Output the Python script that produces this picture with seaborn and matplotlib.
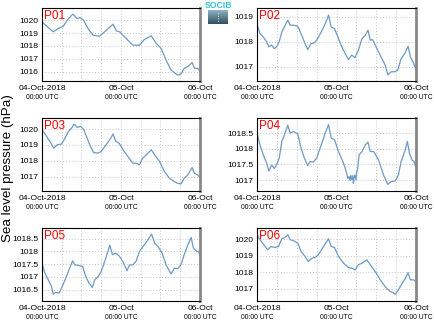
import numpy as np
import pandas as pd
import matplotlib
matplotlib.use("Agg")
import matplotlib.pyplot as plt
from matplotlib.ticker import MultipleLocator, FixedLocator
import seaborn as sns

# ---------------- data (hours since 04-Oct-2018 00:00 UTC, hPa) ----------------
stations = ["P01", "P02", "P03", "P04", "P05", "P06"]

p01_h = [0, 1.4, 3.4, 4.9, 6.5, 7.5, 9.0, 9.5, 10.6, 11.6, 12.6, 14.0, 15.5, 17.5, 19.6, 21.6, 22.6, 23.6,
         25.6, 27.6, 29.6, 31.1, 33.2, 34.7, 36.2, 37.7, 39.2, 41.2, 42.2, 43.2, 44.3, 45.6, 46.3, 47.3, 48.0]
p01_v = [1019.87, 1019.54, 1019.10, 1019.35, 1019.54, 1019.95, 1020.39, 1020.46, 1020.13, 1020.21, 1020.00,
         1019.35, 1018.84, 1018.76, 1019.23, 1019.69, 1019.17, 1019.10, 1018.58, 1018.06, 1018.06, 1018.50,
         1018.79, 1018.19, 1017.81, 1016.90, 1016.13, 1015.74, 1015.82, 1016.26, 1016.39, 1016.72, 1016.26,
         1016.26, 1016.00]

p02_h = [0, 0.9, 1.9, 2.9, 3.6, 4.4, 5.2, 5.9, 6.7, 7.5, 8.5, 9.3, 10.0, 11.0, 12.3, 13.3, 14.3, 15.3, 16.3,
         17.3, 18.3, 19.4, 20.6, 21.6, 22.4, 23.4, 24.4, 25.6, 26.6, 27.6, 28.6, 29.6, 30.6, 31.7, 32.7, 33.5,
         34.2, 34.9, 36.2, 37.7, 38.7, 39.5, 40.5, 41.5, 42.5, 43.5, 44.6, 45.6, 46.3, 47.3, 48.0]
p02_v = [1018.71, 1018.33, 1018.20, 1018.00, 1017.80, 1017.87, 1017.73, 1017.80, 1018.00, 1018.40, 1018.67,
         1018.87, 1018.67, 1018.67, 1018.63, 1018.33, 1018.00, 1017.69, 1017.93, 1017.96, 1018.13, 1018.40,
         1018.73, 1019.07, 1018.60, 1018.53, 1018.20, 1017.80, 1017.53, 1017.29, 1017.47, 1017.37, 1017.67,
         1018.13, 1018.27, 1018.47, 1018.07, 1018.09, 1017.73, 1017.33, 1017.07, 1016.67, 1016.80, 1016.80,
         1016.87, 1017.33, 1017.53, 1017.83, 1017.40, 1017.13, 1016.87]

p03_h = [0, 1.4, 2.4, 3.6, 4.6, 5.9, 7.0, 8.0, 9.0, 9.7, 10.7, 11.7, 12.7, 13.7, 14.7, 15.7, 17.0, 18.0, 19.1,
         20.6, 21.6, 22.4, 23.4, 24.6, 26.1, 27.6, 28.6, 29.6, 30.6, 31.7, 33.2, 34.2, 35.7, 37.2, 38.7, 40.2,
         41.2, 42.2, 43.2, 44.3, 45.6, 46.3, 47.3, 48.0]
p03_v = [1019.96, 1019.54, 1019.22, 1018.80, 1019.01, 1019.06, 1019.43, 1019.85, 1020.06, 1020.31, 1020.10,
         1020.17, 1019.96, 1019.43, 1018.91, 1018.53, 1018.49, 1018.60, 1018.91, 1019.33, 1019.69, 1019.22,
         1019.12, 1018.70, 1018.28, 1017.86, 1017.86, 1017.76, 1018.18, 1018.39, 1018.70, 1018.39, 1017.97,
         1017.34, 1016.92, 1016.71, 1016.60, 1016.56, 1016.92, 1017.13, 1017.59, 1017.23, 1017.13, 1016.96]

p04_h = [0, 0.9, 1.9, 2.9, 3.6, 4.4, 5.2, 5.9, 6.7, 7.5, 8.3, 9.3, 10.0, 11.0, 12.3, 13.3, 14.3, 15.3, 16.0,
         17.0, 18.0, 19.4, 20.6, 21.6, 22.4, 23.4, 24.6, 26.1, 27.1, 27.4, 27.8, 28.1, 28.3, 28.6, 28.9, 29.1,
         29.3, 29.6, 29.9, 30.1, 30.4, 30.8, 31.7, 32.7, 33.5, 34.2, 35.2, 36.7, 38.2, 39.5, 40.5, 41.7, 42.7,
         43.5, 44.6, 45.4, 46.0, 46.8, 47.4, 48.0]
p04_v = [1018.50, 1018.12, 1017.80, 1017.54, 1017.29, 1017.48, 1017.37, 1017.48, 1017.70, 1018.23, 1018.45,
         1018.75, 1018.50, 1018.55, 1018.47, 1018.02, 1017.70, 1017.46, 1017.59, 1017.57, 1017.70, 1018.12,
         1018.50, 1018.77, 1018.34, 1018.29, 1017.91, 1017.54, 1017.21, 1017.05, 1017.11, 1016.98, 1017.15,
         1017.02, 1017.14, 1016.89, 1017.08, 1017.16, 1017.00, 1017.25, 1017.37, 1017.80, 1017.91, 1018.12,
         1018.21, 1017.91, 1017.91, 1017.64, 1017.16, 1016.86, 1016.95, 1016.97, 1017.16, 1017.59, 1017.91,
         1018.23, 1017.86, 1017.64, 1017.59, 1017.37]

p05_h = [0, 0.9, 1.9, 2.9, 3.4, 4.2, 5.2, 5.9, 7.0, 8.0, 9.3, 10.0, 11.0, 12.3, 13.3, 14.3, 15.3, 16.0, 17.0,
         18.0, 19.4, 20.6, 21.4, 22.4, 23.6, 24.8, 25.8, 26.6, 27.6, 28.6, 29.6, 31.1, 32.2, 33.3, 34.2, 35.2,
         36.5, 37.7, 39.2, 40.2, 41.2, 42.2, 43.2, 44.3, 45.3, 46.0, 47.0, 47.6, 48.0]
p05_v = [1017.54, 1017.14, 1016.88, 1016.62, 1016.32, 1016.39, 1016.36, 1016.55, 1016.88, 1017.21, 1017.63,
         1017.47, 1017.45, 1017.41, 1017.01, 1016.75, 1016.58, 1016.88, 1017.01, 1017.21, 1017.74, 1018.24,
         1017.87, 1017.93, 1017.80, 1017.54, 1017.24, 1017.47, 1017.47, 1017.61, 1018.00, 1018.26, 1018.46,
         1018.68, 1018.33, 1018.20, 1017.93, 1017.47, 1017.11, 1017.34, 1017.32, 1017.47, 1017.87, 1018.26,
         1018.55, 1018.13, 1018.00, 1018.00, 1017.80]

p06_h = [0, 0.9, 1.9, 3.2, 4.2, 5.4, 6.5, 7.5, 8.5, 9.3, 10.0, 11.0, 12.3, 13.3, 14.5, 15.5, 16.5, 17.5, 18.5,
         20.1, 21.6, 22.4, 23.4, 24.6, 26.1, 27.6, 28.6, 29.6, 30.6, 31.7, 33.2, 34.2, 35.7, 37.2, 38.7, 40.2,
         41.2, 41.7, 42.7, 43.8, 44.8, 45.6, 46.3, 47.3, 48.0]
p06_v = [1020.26, 1019.96, 1019.70, 1019.35, 1019.55, 1019.49, 1019.55, 1020.02, 1020.10, 1020.26, 1019.96,
         1019.90, 1019.76, 1019.25, 1018.95, 1018.64, 1018.84, 1018.88, 1019.05, 1019.55, 1020.02, 1019.55,
         1019.49, 1018.95, 1018.54, 1018.28, 1018.24, 1018.13, 1018.44, 1018.54, 1018.74, 1018.44, 1018.03,
         1017.53, 1017.12, 1016.82, 1016.75, 1016.65, 1016.92, 1017.32, 1017.63, 1017.97, 1017.53, 1017.53,
         1017.42]

hours = [p01_h, p02_h, p03_h, p04_h, p05_h, p06_h]
values = [p01_v, p02_v, p03_v, p04_v, p05_v, p06_v]

y_limits = [(1015.28, 1020.95), (1016.43, 1019.36), (1016.12, 1020.69),
            (1016.65, 1018.98), (1016.05, 1018.92), (1016.25, 1020.67)]
y_ticks = [[1016, 1017, 1018, 1019, 1020], [1017, 1018, 1019], [1017, 1018, 1019, 1020],
           [1017, 1017.5, 1018, 1018.5], [1016.5, 1017, 1017.5, 1018, 1018.5], [1017, 1018, 1019, 1020]]

x_ticks = [0, 24, 48]
x_tick_labels = ["04-Oct-2018", "05-Oct", "06-Oct"]
x_tick_sub = "00:00 UTC"
y_label = "Sea level pressure (hPa)"

# ---------------- figure ----------------
sns.set_theme(style="white")
plt.rcParams["font.family"] = ["Liberation Sans", "DejaVu Sans"]

W, H = 435, 327
fig = plt.figure(figsize=(W / 100, H / 100), dpi=100)

col_x = [(42, 200), (257, 416)]
row_y = [(8, 81), (118, 191), (228, 301)]

line_color = "#6c9ac6"

for i, name in enumerate(stations):
    r, c = divmod(i, 2)
    x0, x1 = col_x[c]
    y0, y1 = row_y[r]
    ax = fig.add_axes([x0 / W, 1 - y1 / H, (x1 - x0) / W, (y1 - y0) / H])
    df = pd.DataFrame({"hour": hours[i], "pressure": values[i]})
    sns.lineplot(data=df, x="hour", y="pressure", ax=ax, color=line_color, linewidth=0.9)
    ax.set_xlim(0, 48)
    ax.set_ylim(*y_limits[i])
    ax.set_xlabel("")
    ax.set_ylabel("")
    ax.yaxis.set_major_locator(FixedLocator(y_ticks[i]))
    ax.set_yticklabels([f"{t:g}" for t in y_ticks[i]])
    ax.xaxis.set_major_locator(FixedLocator(x_ticks))
    ax.xaxis.set_minor_locator(MultipleLocator(6))
    ax.set_xticklabels(x_tick_labels)
    ax.tick_params(axis="both", which="both", length=0, labelsize=6.1, colors="black")
    ax.tick_params(axis="x", pad=3.2)
    ax.tick_params(axis="y", pad=2.5)
    ax.grid(True, which="major", axis="y", color="#c4c4c4", linestyle=(0, (1, 2)), linewidth=0.7)
    ax.grid(True, which="both", axis="x", color="#c4c4c4", linestyle=(0, (1, 2)), linewidth=0.7)
    for s in ["left", "top", "bottom"]:
        ax.spines[s].set_color("black")
        ax.spines[s].set_linewidth(0.8)
    ax.spines["right"].set_color("#888888")
    ax.spines["right"].set_linewidth(2.0)
    for xt in x_ticks:
        ax.annotate(x_tick_sub, xy=(xt, 0), xycoords=("data", "axes fraction"),
                    xytext=(0, -12.2), textcoords="offset points",
                    ha="center", va="center", fontsize=4.9, color="black")
    ax.text(0.01, 0.97, name, transform=ax.transAxes, ha="left", va="top",
            fontsize=8.5, color="red")

fig.text(8.5 / W, 1 - 168 / H, y_label, rotation=90, ha="center", va="center",
         fontsize=9.6, color="black")

# small logo
logo = fig.add_axes([208 / W, 1 - 24 / H, 20 / W, 14 / H])
grad = np.linspace(0, 1, 50).reshape(-1, 1)
logo.imshow(grad, aspect="auto", cmap=sns.blend_palette(["#8fb3c2", "#2f4f5e"], as_cmap=True))
logo.plot([0, 0], [10, 45], color="white", linestyle=(0, (1, 2)), linewidth=0.6)
logo.set_xlim(-0.5, 0.5)
logo.axis("off")
fig.text(219 / W, 1 - 6 / H, "SOCIB", ha="center", va="center", fontsize=6.2,
         color="#33c4d6", fontweight="bold")

fig.savefig("out.png", dpi=100)
